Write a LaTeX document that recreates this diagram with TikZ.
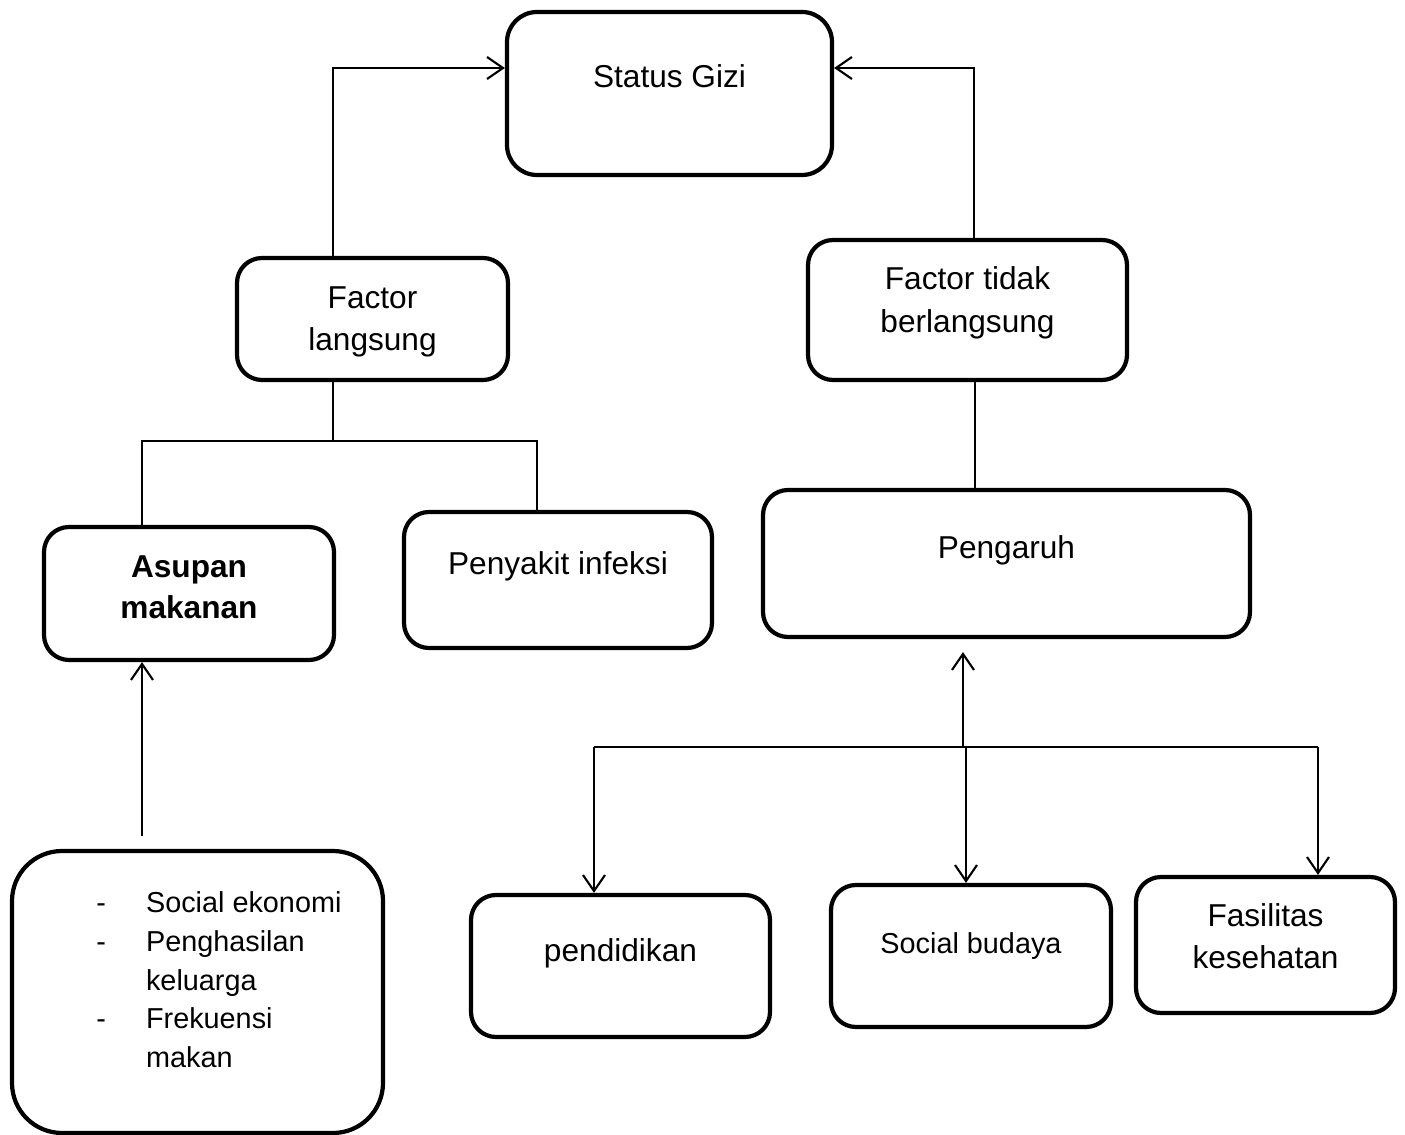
\documentclass[tikz,border=0pt]{standalone}
\usepackage{fontspec}
\setmainfont{Liberation Sans}
\usetikzlibrary{arrows.meta}

\begin{document}
\begin{tikzpicture}[
    every node/.style={font=\fontsize{18}{24.4}\selectfont},
    box/.style={draw, line width=2.4pt, rounded corners=0.5cm, align=center, text height=13pt},
    twoline/.style={text height=37.4pt},
    line/.style={line width=1.2pt},
    arr/.style={line width=1.2pt, -{Straight Barb[length=0.32cm, width=0.44cm]}}
]
\useasboundingbox (0,0) rectangle (28.1,-22.7);

% Top and factors
\node[box, rounded corners=0.6cm, minimum width=6.5cm, minimum height=3.26cm, text depth=20pt] (sg) at (13.39,-1.87) {Status Gizi};
\node[box, twoline, minimum width=5.42cm, minimum height=2.44cm, text depth=1pt] (fl) at (7.45,-6.38) {Factor\\langsung};
\node[box, twoline, minimum width=6.38cm, minimum height=2.8cm, text depth=11.4pt] (ft) at (19.35,-6.2) {Factor tidak\\berlangsung};

% Second row
\node[box, minimum width=5.8cm, minimum height=2.66cm, text height=36.2pt, text depth=8pt, font=\fontsize{18}{23.2}\selectfont\bfseries] (am) at (3.78,-11.87) {Asupan\\makanan};
\node[box, minimum width=6.16cm, minimum height=2.72cm, text depth=19.5pt] (pi) at (11.16,-11.6) {Penyakit infeksi};
\node[box, minimum width=9.74cm, minimum height=2.94cm, text depth=19pt] (pg) at (20.13,-11.27) {Pengaruh};

% Bottom row
\node[box, rounded corners=1cm, minimum width=7.42cm, minimum height=5.64cm, text depth=103pt, font=\fontsize{16.4}{22}\selectfont] (ls) at (3.95,-19.84)
{\begin{tabular}[t]{@{\hspace{0.86cm}}l@{\hspace{0.8cm}}l@{}}
- & Social ekonomi\\
- & Penghasilan\\
  & keluarga\\
- & Frekuensi\\
  & makan
\end{tabular}};
\node[box, minimum width=5.98cm, minimum height=2.84cm, text depth=18.5pt] (pd) at (12.41,-19.32) {pendidikan};
\node[box, minimum width=5.6cm, minimum height=2.84cm, text depth=16pt, font=\fontsize{16.4}{22}\selectfont] (sb) at (19.42,-19.12) {Social budaya};
\node[box, twoline, minimum width=5.18cm, minimum height=2.72cm, text depth=10.2pt] (fk) at (25.31,-18.9) {Fasilitas\\kesehatan};

% Arrows into Status Gizi
\draw[arr] ([xshift=-0.79cm]fl.north) |- ([yshift=0.51cm]sg.west);
\draw[arr] ([xshift=0.13cm]ft.north) |- ([yshift=0.51cm]sg.east);

% Factor langsung branches
\coordinate (jl) at ([xshift=-0.79cm,yshift=-1.18cm]fl.south);
\coordinate (amT) at ([xshift=-0.94cm]am.north);
\coordinate (piT) at ([xshift=-0.42cm]pi.north);
\draw[line] ([xshift=-0.79cm]fl.south) -- (jl);
\draw[line] (amT) |- (piT |- jl) -- (piT);

% Factor tidak berlangsung to Pengaruh
\coordinate (ftB) at ([xshift=0.15cm]ft.south);
\draw[line] (ftB) -- (ftB |- pg.north);

% Pengaruh bus
\coordinate (bus) at ([xshift=-0.87cm,yshift=-2.16cm]pg.south);
\coordinate (pdT) at ([xshift=-0.53cm]pd.north);
\coordinate (sbT) at ([xshift=-0.1cm]sb.north);
\coordinate (fkT) at ([xshift=1.05cm]fk.north);
\draw[arr] (bus) -- ([xshift=-0.87cm,yshift=-0.26cm]pg.south);
\draw[line] (pdT |- bus) -- (fkT |- bus);
\foreach \t in {pdT,sbT,fkT}
    \draw[arr] (\t |- bus) -- (\t);

% Asupan makanan input
\coordinate (lsT) at ([xshift=-1.11cm,yshift=0.26cm]ls.north);
\draw[arr] (lsT) -- (lsT |- am.south);

\end{tikzpicture}
\end{document}
